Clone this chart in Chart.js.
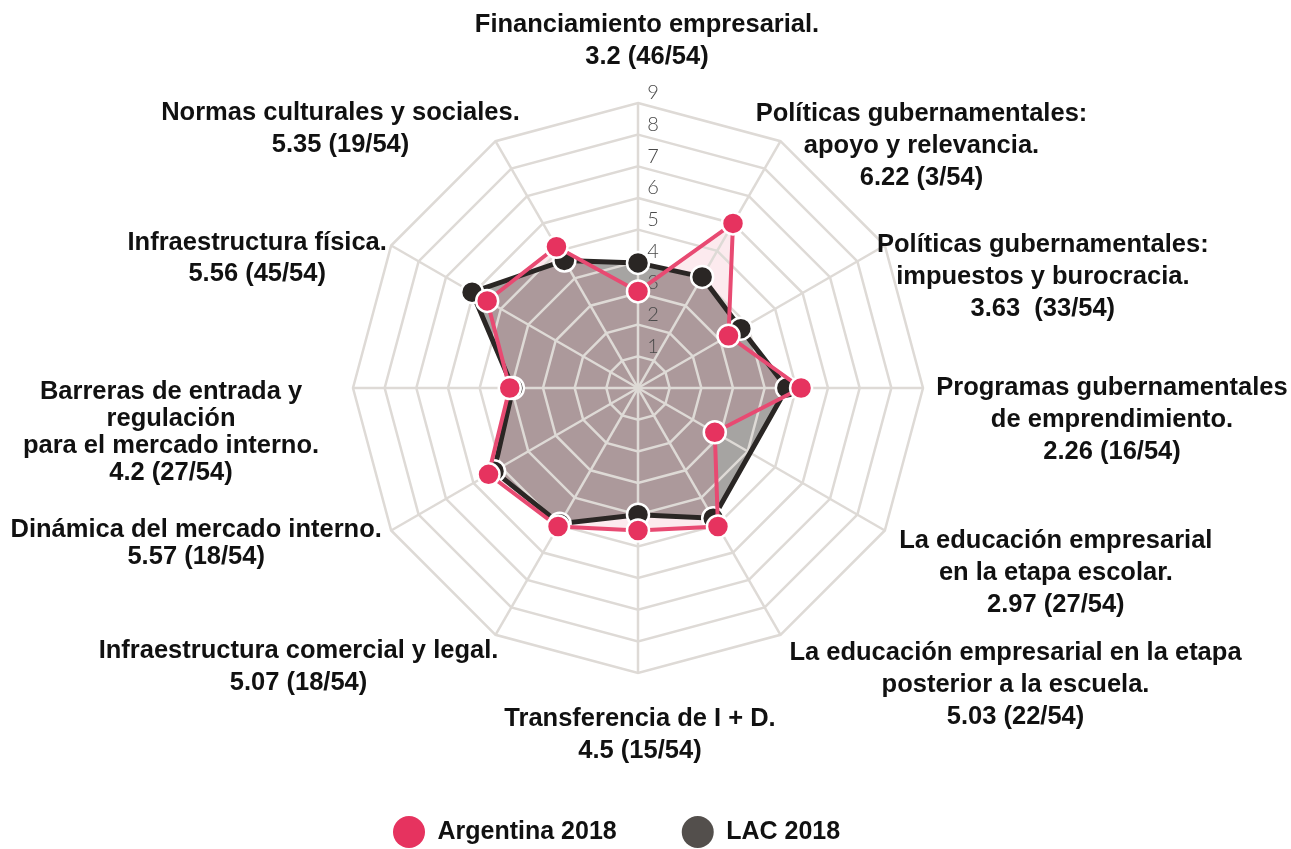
<!DOCTYPE html>
<html>
<head>
<meta charset="utf-8">
<script src="https://cdn.jsdelivr.net/npm/chart.js@4/dist/chart.umd.min.js"></script>
<style>
  html, body { margin: 0; padding: 0; background: #ffffff; }
  #wrap { position: relative; width: 1291px; height: 849px; }
</style>
</head>
<body>
<div id="wrap"><canvas id="radarChart"></canvas></div>
<script>
// Axis labels (clockwise from top), one entry per line
const axisLabels = [
    ['Financiamiento empresarial.', '3.2 (46/54)'],
    ['Políticas gubernamentales:', 'apoyo y relevancia.', '6.22 (3/54)'],
    ['Políticas gubernamentales:', 'impuestos y burocracia.', '3.63  (33/54)'],
    ['Programas gubernamentales', 'de emprendimiento.', '2.26 (16/54)'],
    ['La educación empresarial', 'en la etapa escolar.', '2.97 (27/54)'],
    ['La educación empresarial en la etapa', 'posterior a la escuela.', '5.03 (22/54)'],
    ['Transferencia de I + D.', '4.5 (15/54)'],
    ['Infraestructura comercial y legal.', '5.07 (18/54)'],
    ['Dinámica del mercado interno.', '5.57 (18/54)'],
    ['Barreras de entrada y', 'regulación', 'para el mercado interno.', '4.2 (27/54)'],
    ['Infraestructura física.', '5.56 (45/54)'],
    ['Normas culturales y sociales.', '5.35 (19/54)']
];

const seriesNames = ['Argentina 2018', 'LAC 2018'];
const argentina2018 = [3.05, 6.0, 3.3, 5.15, 2.8, 5.05, 4.5, 5.05, 5.45, 4.05, 5.5, 5.15];
const lac2018 = [3.95, 4.05, 3.75, 4.7, null, 4.75, 4.0, 4.95, 5.25, 3.95, 6.05, 4.65];
const tickValues = [1, 2, 3, 4, 5, 6, 7, 8, 9];

// where each label block sits, relative to the outer ring vertex: [dx, dy, line height]
const labelOffsets = [
    [9, -62, 32], [141, 5, 32], [158, 31, 32], [189, 32, 32], [171, 42, 32], [235, 50, 32],
    [2, 62, 32], [-197, 32, 32], [-195, 13, 27], [-182, 44, 27], [-134, 13, 31], [-155, -12, 32]
];

const RED = '#e6335f';
const RED_LINE = '#e84a72';
const DARK = '#2a2624';
const legendColors = [RED, '#534f4c'];
const LABEL_FONT = 'bold 25.5px "Liberation Sans", Arial, sans-serif';

// draw axis labels as centered multi-line blocks
const axisLabelPlugin = {
    id: 'axisLabels',
    afterDraw(chart) {
        const r = chart.scales.r;
        const ctx = chart.ctx;
        const outer = r.getDistanceFromCenterForValue(tickValues[tickValues.length - 1]);
        ctx.save();
        ctx.font = LABEL_FONT;
        ctx.fillStyle = '#111111';
        ctx.textAlign = 'center';
        ctx.textBaseline = 'middle';
        axisLabels.forEach((lines, i) => {
            const p = r.getPointPosition(i, outer);
            const [dx, dy, lh] = labelOffsets[i];
            const top = p.y + dy - (lines.length - 1) * lh / 2;
            lines.forEach((t, k) => ctx.fillText(t, p.x + dx, top + k * lh));
        });
        ctx.restore();
    }
};

// tick numbers sit a bit right of and above each ring
const tickLabelPlugin = {
    id: 'tickLabels',
    beforeDatasetsDraw(chart) {
        const r = chart.scales.r;
        const ctx = chart.ctx;
        ctx.save();
        ctx.font = '300 20px Lato, "Liberation Sans", sans-serif';
        ctx.fillStyle = '#4a4a4a';
        ctx.textAlign = 'center';
        ctx.textBaseline = 'middle';
        tickValues.forEach(v => {
            const d = r.getDistanceFromCenterForValue(v);
            ctx.fillText(String(v), r.xCenter + 15, r.yCenter - d - 10);
        });
        ctx.restore();
    }
};

const ctx = document.getElementById('radarChart').getContext('2d');
new Chart(ctx, {
    type: 'radar',
    data: {
        labels: axisLabels,
        datasets: [{
            label: seriesNames[0],
            data: argentina2018,
            borderColor: RED_LINE,
            borderWidth: 4,
            backgroundColor: 'rgba(232, 60, 100, 0.11)',
            fill: true,
            pointRadius: 11,
            pointBorderWidth: 2.5,
            pointBackgroundColor: RED,
            pointBorderColor: '#ffffff'
        }, {
            label: seriesNames[1],
            data: lac2018,
            spanGaps: true,
            borderColor: DARK,
            borderWidth: 5,
            backgroundColor: '#a6a4a2',
            fill: true,
            pointRadius: 11,
            pointBorderWidth: 2.5,
            pointBackgroundColor: DARK,
            pointBorderColor: '#ffffff'
        }]
    },
    options: {
        responsive: true,
        maintainAspectRatio: false,
        animation: false,
        events: [],
        layout: { padding: { left: 353, right: 368, top: 0, bottom: -9 } },
        scales: {
            r: {
                min: 0,
                max: 9,
                ticks: { stepSize: 1, display: false },
                pointLabels: { display: false },
                grid: { color: '#dedad6', lineWidth: 2.5 },
                angleLines: { color: '#dedad6', lineWidth: 2.5 }
            }
        },
        plugins: {
            filler: { drawTime: 'beforeDraw' },
            tooltip: { enabled: false },
            legend: {
                position: 'bottom',
                align: 'start',
                labels: {
                    boxWidth: 32,
                    boxHeight: 32,
                    useBorderRadius: true,
                    borderRadius: 16,
                    padding: 40,
                    color: '#111111',
                    font: { family: '"Liberation Sans", Arial, sans-serif', size: 25, weight: 'bold' },
                    generateLabels: chart => Chart.defaults.plugins.legend.labels.generateLabels(chart).map((item, i) => ({
                        ...item,
                        text: i === 0 ? item.text + '\u2002\u2002' : item.text,
                        fillStyle: legendColors[i],
                        strokeStyle: legendColors[i],
                        lineWidth: 0
                    }))
                }
            }
        }
    },
    plugins: [tickLabelPlugin, axisLabelPlugin]
});
</script>
</body>
</html>
